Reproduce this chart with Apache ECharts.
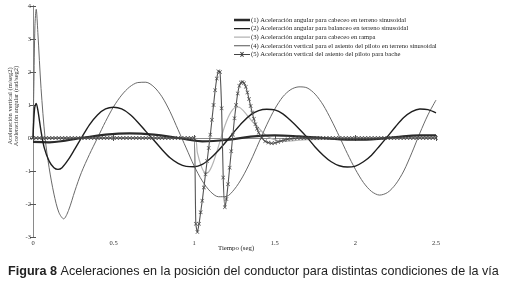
<!DOCTYPE html>
<html><head><meta charset="utf-8">
<script src="https://cdn.jsdelivr.net/npm/echarts@6/dist/echarts.min.js"></script>
<style>html,body{margin:0;padding:0;background:#fff}#c{width:507px;height:287px}</style>
</head><body><div id="c"></div>
<script>
// ---- data ----
const seriesNames = [
  "(1) Aceleración angular para cabeceo en terreno sinusoidal",
  "(2) Aceleración angular para balanceo en terreno sinusoidal",
  "(3) Aceleración angular para cabeceo en rampa",
  "(4) Aceleración vertical para el asiento del piloto en terreno sinusoidal",
  "(5) Aceleración vertical del asiento del piloto para bache"
];
const xTicks = [0, 0.5, 1, 1.5, 2, 2.5];
const yTicks = [-3, -2, -1, 0, 1, 2, 3, 4];

const t1 = [0, 0.1, 0.2, 0.3, 0.45, 0.6, 0.75, 0.9, 1.05, 1.2, 1.35, 1.5, 1.65, 1.8, 1.95, 2.1, 2.25, 2.4, 2.5];
const v1 = [-0.12, -0.13, -0.08, 0, 0.1, 0.14, 0.1, 0, -0.1, -0.06, 0.04, 0.08, 0.05, 0, -0.05, -0.04, 0.03, 0.08, 0.08];

const t2 = [0, 0.01, 0.02, 0.03, 0.05, 0.07, 0.10, 0.13, 0.155, 0.18, 0.22, 0.26, 0.30, 0.35, 0.40, 0.45, 0.50, 0.55, 0.60, 0.65, 0.70, 0.75, 0.80, 0.85, 0.90, 0.95, 1.00, 1.05, 1.10, 1.15, 1.20, 1.25, 1.30, 1.35, 1.40, 1.45, 1.50, 1.55, 1.60, 1.65, 1.70, 1.75, 1.80, 1.85, 1.90, 1.95, 2.00, 2.05, 2.10, 2.15, 2.20, 2.25, 2.30, 2.35, 2.40, 2.45, 2.50];
const v2 = [0, 0.9, 1.05, 0.85, 0.2, -0.3, -0.7, -0.9, -0.95, -0.9, -0.65, -0.33, 0, 0.4, 0.7, 0.88, 0.93, 0.88, 0.72, 0.48, 0.2, -0.07, -0.35, -0.6, -0.77, -0.86, -0.87, -0.8, -0.62, -0.38, -0.1, 0.2, 0.48, 0.7, 0.83, 0.87, 0.85, 0.73, 0.52, 0.28, 0.02, -0.27, -0.52, -0.72, -0.84, -0.88, -0.85, -0.72, -0.52, -0.24, 0.05, 0.35, 0.62, 0.8, 0.88, 0.86, 0.76];

const t3 = [0, 0.5, 1.00, 1.02, 1.04, 1.06, 1.08, 1.10, 1.12, 1.14, 1.16, 1.18, 1.20, 1.22, 1.24, 1.26, 1.28, 1.30, 1.33, 1.36, 1.40, 1.44, 1.48, 1.52, 1.56, 1.62, 1.70, 1.80, 2.00, 2.20, 2.50];
const v3 = [0, 0, 0, -0.45, -0.8, -1.02, -1.06, -0.95, -0.72, -0.42, -0.1, 0.22, 0.5, 0.72, 0.87, 0.94, 0.93, 0.85, 0.68, 0.5, 0.3, 0.1, -0.02, -0.08, -0.1, -0.08, -0.05, -0.04, -0.05, -0.02, 0];

const t4 = [0, 0.005, 0.012, 0.02, 0.03, 0.05, 0.075, 0.10, 0.13, 0.16, 0.19, 0.22, 0.26, 0.30, 0.35, 0.40, 0.45, 0.50, 0.55, 0.60, 0.65, 0.70, 0.75, 0.80, 0.85, 0.90, 0.95, 1.00, 1.05, 1.10, 1.15, 1.20, 1.25, 1.30, 1.35, 1.40, 1.45, 1.50, 1.55, 1.60, 1.65, 1.70, 1.75, 1.80, 1.85, 1.90, 1.95, 2.00, 2.05, 2.10, 2.15, 2.20, 2.25, 2.30, 2.35, 2.40, 2.45, 2.50];
const v4 = [0, 1.5, 3.4, 3.9, 3.2, 1.5, 0, -0.9, -1.7, -2.25, -2.45, -2.2, -1.6, -1.05, -0.5, 0, 0.5, 0.95, 1.3, 1.55, 1.68, 1.69, 1.55, 1.25, 0.8, 0.25, -0.3, -0.85, -1.3, -1.62, -1.78, -1.77, -1.55, -1.18, -0.7, -0.15, 0.4, 0.88, 1.25, 1.47, 1.55, 1.52, 1.33, 1.0, 0.55, 0.05, -0.47, -0.95, -1.35, -1.62, -1.73, -1.65, -1.4, -1.0, -0.45, 0.15, 0.7, 1.15];

const t5 = [0, 0.02, 0.04, 0.06, 0.08, 0.10, 0.12, 0.14, 0.16, 0.18, 0.20, 0.22, 0.24, 0.26, 0.28, 0.30, 0.32, 0.34, 0.36, 0.38, 0.40, 0.42, 0.44, 0.46, 0.48, 0.50, 0.52, 0.54, 0.56, 0.58, 0.60, 0.62, 0.64, 0.66, 0.68, 0.70, 0.72, 0.74, 0.76, 0.78, 0.80, 0.82, 0.84, 0.86, 0.88, 0.90, 0.92, 0.94, 0.96, 0.98,
  1.00, 1.01, 1.02, 1.03, 1.04, 1.05, 1.06, 1.07, 1.08, 1.09, 1.10, 1.11, 1.12, 1.13, 1.14, 1.15, 1.16, 1.17, 1.18, 1.19, 1.20, 1.21, 1.22, 1.23, 1.24, 1.25, 1.26, 1.27, 1.28, 1.29, 1.30, 1.31, 1.32, 1.33, 1.34, 1.35, 1.36, 1.37, 1.38, 1.39, 1.40, 1.42, 1.44, 1.46, 1.48, 1.50, 1.52, 1.54, 1.56, 1.58, 1.60,
  1.62, 1.64, 1.66, 1.68, 1.70, 1.72, 1.74, 1.76, 1.78, 1.80, 1.82, 1.84, 1.86, 1.88, 1.90, 1.92, 1.94, 1.96, 1.98, 2.00, 2.02, 2.04, 2.06, 2.08, 2.10, 2.12, 2.14, 2.16, 2.18, 2.20, 2.22, 2.24, 2.26, 2.28, 2.30, 2.32, 2.34, 2.36, 2.38, 2.40, 2.42, 2.44, 2.46, 2.48, 2.50];
const v5 = [0, 0, 0, 0, 0, 0, 0, 0, 0, 0, 0, 0, 0, 0, 0, 0, 0, 0, 0, 0, 0, 0, 0, 0, 0, 0, 0, 0, 0, 0, 0, 0, 0, 0, 0, 0, 0, 0, 0, 0, 0, 0, 0, 0, 0, 0, 0, 0, 0, 0,
  0, -2.6, -2.85, -2.6, -2.25, -1.9, -1.5, -1.1, -0.7, -0.3, 0.1, 0.55, 1.0, 1.45, 1.8, 2.02, 2.0, 0.9, -1.2, -2.1, -1.85, -1.4, -0.9, -0.4, 0.1, 0.6, 1.0, 1.35, 1.58, 1.68, 1.7, 1.66, 1.55, 1.38, 1.18, 0.97, 0.77, 0.58, 0.42, 0.28, 0.16, 0.0, -0.1, -0.14, -0.16, -0.15, -0.12, -0.09, -0.06, -0.04, -0.02,
  -0.01, 0, 0, 0, 0, 0, 0, 0, 0, 0, 0, 0, 0, 0, 0, 0, 0, 0, 0, 0, 0, 0, 0, 0, 0, 0, 0, 0, 0, 0, 0, 0, 0, 0, 0, 0, 0, 0, 0, 0, 0, 0, 0, 0, 0];

const zip = (t, v) => t.map((x, i) => [x, v[i]]);
const SERIF = '"Liberation Serif", "DejaVu Serif", serif';
const xShape = 'path://M0,1L1,0L5,4L9,0L10,1L6,5L10,9L9,10L5,6L1,10L0,9L4,5Z';
// legend icons: a horizontal stroke inside a 16x8 box (tiny corner points fix the box)
const lineIcon = w => 'path://M0,0L0.01,0L0,0.01Z M0,' + (4 - w / 2) + 'L16,' + (4 - w / 2) + 'L16,' + (4 + w / 2) + 'L0,' + (4 + w / 2) + 'Z M16,8L15.99,8L16,7.99Z';
const markIcon = 'path://M0,0L0.01,0L0,0.01Z M0,3.5L16,3.5L16,4.5L0,4.5Z M6,1.3L6.7,0.6L8,1.9L9.3,0.6L10,1.3L8.7,2.6L10,3.9L9.3,4.6L8,3.3L6.7,4.6L6,3.9L7.3,2.6Z M6,5.4L6.7,4.7L8,6L9.3,4.7L10,5.4L8.7,6.7L10,8L9.3,8L8,7.4L6.7,8L6,8L7.3,6.7Z M16,8L15.99,8L16,7.99Z';
const legendIcons = [lineIcon(2.4), lineIcon(1.4), lineIcon(1.2), lineIcon(0.9), 'path://M0,0L0.01,0L0,0.01Z M0,3.5L16,3.5L16,4.5L0,4.5Z M6,2L6.7,1.3L8,2.6L9.3,1.3L10,2L8.7,3.3L8.7,4.7L10,6L9.3,6.7L8,5.4L6.7,6.7L6,6L7.3,4.7L7.3,3.3Z M16,8L15.99,8L16,7.99Z'];

const chart = echarts.init(document.getElementById('c'), null, {renderer: 'canvas'});
const frame = '#8a8a8a';
const common = {min: 0, max: 2.5, interval: 0.5};
chart.setOption({
  animation: false,
  backgroundColor: '#fff',
  grid: {left: 33, right: 71, top: 6, bottom: 50},
  legend: {
    orient: 'vertical', left: 229, top: 11, itemWidth: 16, itemHeight: 8, itemGap: 0.6,
    textStyle: {fontFamily: SERIF, fontSize: 6.6, color: '#222', padding: [0, 0, 0, -4]},
    data: seriesNames.map((n, i) => ({name: n, icon: legendIcons[i]}))
  },
  xAxis: [
    Object.assign({type: 'value', position: 'bottom',
      axisLine: {lineStyle: {color: frame, width: 1}},
      axisTick: {inside: true, length: 3, lineStyle: {color: '#555'}},
      axisLabel: {fontFamily: SERIF, fontSize: 6.5, color: '#333', margin: 3, formatter: v => String(v)},
      splitLine: {show: false}}, common),
    Object.assign({type: 'value', position: 'top',
      axisLine: {lineStyle: {color: frame, width: 1}},
      axisTick: {inside: true, length: 3, lineStyle: {color: '#555'}},
      axisLabel: {show: false}, splitLine: {show: false}}, common)
  ],
  yAxis: [
    {type: 'value', min: -3, max: 4, interval: 1, position: 'left',
      axisLine: {show: true, lineStyle: {color: '#555', width: 1}},
      axisTick: {show: true, inside: true, length: 3, lineStyle: {color: '#555'}},
      axisLabel: {fontFamily: SERIF, fontSize: 6.5, color: '#333', margin: 2},
      splitLine: {show: false}},
    {type: 'value', min: -3, max: 4, interval: 1, position: 'right',
      axisLine: {show: true, lineStyle: {color: frame, width: 1}},
      axisTick: {show: true, inside: true, length: 3, lineStyle: {color: '#555'}},
      axisLabel: {show: false}, splitLine: {show: false}}
  ],
  series: [
    {name: seriesNames[0], type: 'line', data: zip(t1, v1), smooth: 0.4, showSymbol: false, symbol: 'none',
      lineStyle: {color: '#2a2a2a', width: 2.2}, itemStyle: {color: '#2a2a2a'}, z: 3},
    {name: seriesNames[1], type: 'line', data: zip(t2, v2), smooth: 0.3, showSymbol: false, symbol: 'none',
      lineStyle: {color: '#1e1e1e', width: 1.4}, itemStyle: {color: '#1e1e1e'}, z: 4},
    {name: seriesNames[2], type: 'line', data: zip(t3, v3), smooth: 0.3, showSymbol: false, symbol: 'none',
      lineStyle: {color: '#b4b4b4', width: 1.2}, itemStyle: {color: '#b4b4b4'}, z: 2},
    {name: seriesNames[3], type: 'line', data: zip(t4, v4), smooth: 0.3, showSymbol: false, symbol: 'none',
      lineStyle: {color: '#6a6a6a', width: 1}, itemStyle: {color: '#555'}, z: 2},
    {name: seriesNames[4], type: 'line', data: zip(t5, v5), smooth: 0.2, showSymbol: true, symbol: xShape, symbolSize: 4,
      lineStyle: {color: '#555', width: 1.1}, itemStyle: {color: '#444'}, z: 5}
  ],
  graphic: [
    {type: 'text', left: 218, top: 245, style: {text: 'Tiempo (seg)', font: '6.8px ' + SERIF, fill: '#222'}},
    {type: 'text', x: 13.5, y: 106, rotation: Math.PI / 2,
      style: {text: 'Aceleración vertical (m/seg2)\nAceleración angular (rad/seg2)', font: '6.5px ' + SERIF,
        fill: '#333', align: 'center', verticalAlign: 'middle', lineHeight: 6}},
    {type: 'text', left: 8, top: 265, style: {
      text: '{b|Figura 8} Aceleraciones en la posición del conductor para distintas condiciones de la vía',
      font: '12.6px "Liberation Sans", Arial, sans-serif', fill: '#222',
      rich: {b: {font: 'bold 12.6px "Liberation Sans", Arial, sans-serif', fill: '#222'}}}}
  ]
});
</script></body></html>
